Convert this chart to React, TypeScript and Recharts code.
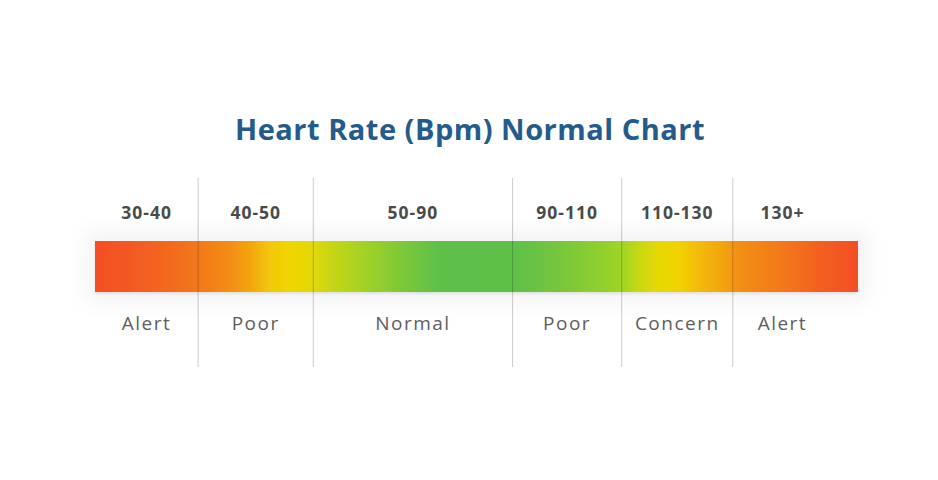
import React from 'react';
import { ComposedChart, Bar, XAxis, YAxis, ReferenceLine, ReferenceArea } from 'recharts';

const chartTitle = 'Heart Rate (Bpm) Normal Chart';
const rangeLabels = ['30-40', '40-50', '50-90', '90-110', '110-130', '130+'];
const statusLabels = ['Alert', 'Poor', 'Normal', 'Poor', 'Concern', 'Alert'];
// relative span of each zone along the scale
const segmentSpans = [103, 115, 199, 109, 111, 99];
const tailSpan = 26;

const gradientStops = [
  { offset: 0, color: '#f44e25' },
  { offset: 0.05, color: '#f35a22' },
  { offset: 0.1, color: '#f26a1d' },
  { offset: 0.135, color: '#f2781a' },
  { offset: 0.177, color: '#f38d14' },
  { offset: 0.203, color: '#f3a50f' },
  { offset: 0.23, color: '#f2c808' },
  { offset: 0.255, color: '#f0d500' },
  { offset: 0.286, color: '#e0d808' },
  { offset: 0.31, color: '#c8d514' },
  { offset: 0.35, color: '#a5d226' },
  { offset: 0.4, color: '#7ec937' },
  { offset: 0.45, color: '#5fc049' },
  { offset: 0.55, color: '#5fc047' },
  { offset: 0.6, color: '#73c53f' },
  { offset: 0.66, color: '#8fcf2e' },
  { offset: 0.69, color: '#9fd425' },
  { offset: 0.714, color: '#c8d812' },
  { offset: 0.74, color: '#e8d804' },
  { offset: 0.767, color: '#f2d100' },
  { offset: 0.793, color: '#f3b90b' },
  { offset: 0.82, color: '#f3a60f' },
  { offset: 0.845, color: '#f28e16' },
  { offset: 0.898, color: '#f27a1a' },
  { offset: 0.95, color: '#f3601f' },
  { offset: 1, color: '#f44e25' },
];

const starts: number[] = [];
{
  let acc = 0;
  for (const s of segmentSpans) {
    starts.push(acc);
    acc += s;
  }
}
const ends = segmentSpans.map((s, i) => starts[i] + s);
const total = segmentSpans.reduce((a, b) => a + b, 0) + tailSpan;
const dividers = ends.slice(0, ends.length - 1);
const data = [{ name: 'bpm', total }];

const FONT = "'Open Sans', sans-serif";

const GlowRect = (props: any) => {
  const { x, y, width, height } = props;
  return (
    <rect x={x} y={y} width={width} height={height} fill="url(#hrGradient)" filter="url(#hrGlow)" />
  );
};

const makeLabel = (i: number) => (props: any) => {
  const vb = props.viewBox || {};
  const cx = vb.x + vb.width / 2;
  return (
    <g>
      <text
        x={cx}
        y={vb.y + 40.5}
        textAnchor="middle"
        fontFamily={FONT}
        fontWeight={700}
        fontSize={17.5}
        letterSpacing={1}
        fill="#4a4a4a"
      >
        {rangeLabels[i]}
      </text>
      <text
        x={cx}
        y={vb.y + 152}
        textAnchor="middle"
        fontFamily={FONT}
        fontWeight={400}
        fontSize={19}
        letterSpacing={1.5}
        fill="#5e5e5e"
      >
        {statusLabels[i]}
      </text>
    </g>
  );
};

export default function App() {
  return (
    <div style={{ position: 'relative', width: 922, height: 464 }}>
      <div
        style={{
          position: 'absolute',
          left: 0,
          top: 106,
          width: 924,
          textAlign: 'center',
          fontFamily: FONT,
          fontWeight: 700,
          fontSize: 29,
          letterSpacing: 0.5,
          lineHeight: '29px',
          color: '#245b8c',
          whiteSpace: 'nowrap',
        }}
      >
        {chartTitle}
      </div>
      <ComposedChart
        width={922}
        height={464}
        layout="vertical"
        data={data}
        margin={{ top: 170, right: 72, bottom: 105, left: 87 }}
      >
        <defs>
          <linearGradient id="hrGradient" x1="0" y1="0" x2="1" y2="0">
            {gradientStops.map((s, i) => (
              <stop key={i} offset={s.offset} stopColor={s.color} />
            ))}
          </linearGradient>
          <filter id="hrGlow" x="-10%" y="-100%" width="120%" height="300%">
            <feMorphology in="SourceAlpha" operator="dilate" radius="10" result="d1" />
            <feGaussianBlur in="d1" stdDeviation="9" result="b1" />
            <feFlood floodColor="#000" floodOpacity="0.045" />
            <feComposite in2="b1" operator="in" result="glow" />
            <feGaussianBlur in="SourceAlpha" stdDeviation="1" result="b2" />
            <feOffset in="b2" dy="1.5" result="o2" />
            <feFlood floodColor="#000" floodOpacity="0.08" />
            <feComposite in2="o2" operator="in" result="edge" />
            <feMerge>
              <feMergeNode in="glow" />
              <feMergeNode in="edge" />
              <feMergeNode in="SourceGraphic" />
            </feMerge>
          </filter>
        </defs>
        <XAxis type="number" domain={[0, total]} hide />
        <YAxis type="category" dataKey="name" hide padding={{ top: 0, bottom: 12 }} />
        <Bar dataKey="total" barSize={51} fill="url(#hrGradient)" shape={GlowRect} isAnimationActive={false} />
        {segmentSpans.map((_, i) => (
          <ReferenceArea
            key={`a${i}`}
            x1={starts[i]}
            x2={ends[i]}
            fill="#ffffff"
            fillOpacity={0}
            strokeOpacity={0}
            label={makeLabel(i)}
          />
        ))}
        {dividers.map((d, i) => (
          <ReferenceLine key={`l${i}`} x={d} stroke="#000" strokeOpacity={0.2} strokeWidth={1} />
        ))}
      </ComposedChart>
    </div>
  );
}
